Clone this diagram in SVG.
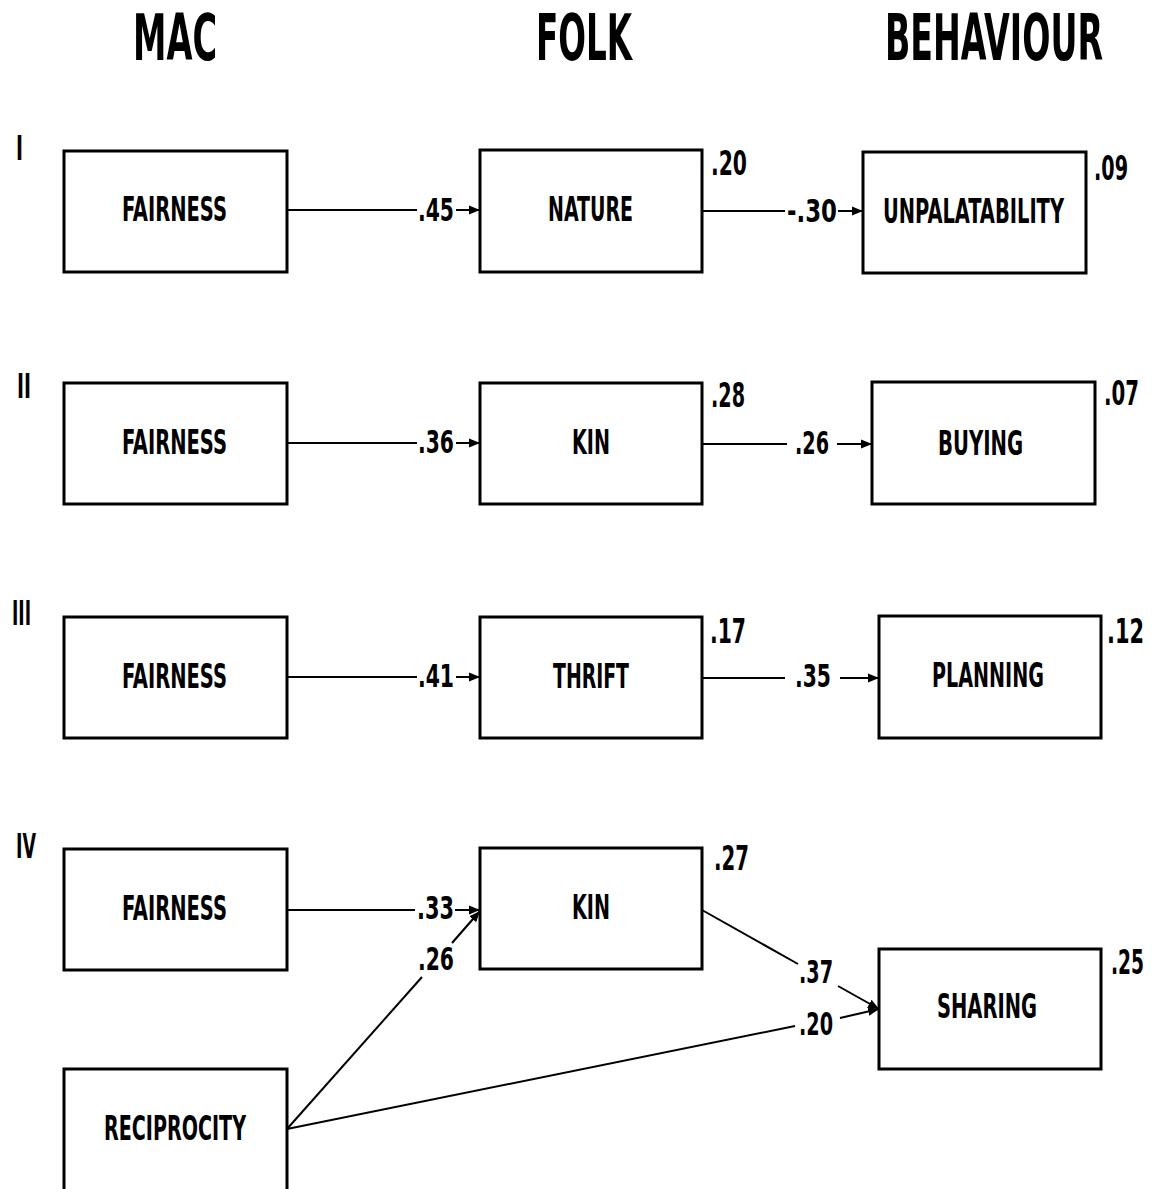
<svg xmlns="http://www.w3.org/2000/svg" width="1153" height="1189" viewBox="0 0 1153 1189">
<style>
text{font-family:"Liberation Sans Narrow","DejaVu Sans Condensed","Liberation Sans",sans-serif;font-weight:bold;fill:#000;}
.h{font-size:64px;}
.n{font-size:34px;}
.e{font-size:32px;}
.r{font-size:33px;}
.box{fill:#fff;stroke:#000;stroke-width:3;}
.c{stroke:#000;stroke-width:2;fill:none;}
.a{marker-end:url(#arr);}
</style>
<defs>
<marker id="arr" markerUnits="userSpaceOnUse" markerWidth="12" markerHeight="10" refX="11" refY="5" orient="auto">
<path d="M0,0.5 L11,5 L0,9.5 z" fill="#000"/>
</marker>
</defs>
<rect width="1153" height="1189" fill="#fff"/>
<g id="headers">
<text class="h" x="133" y="60" textLength="84" lengthAdjust="spacingAndGlyphs">MAC</text>
<text class="h" x="536" y="60" textLength="96" lengthAdjust="spacingAndGlyphs">FOLK</text>
<text class="h" x="885" y="60" textLength="218" lengthAdjust="spacingAndGlyphs">BEHAVIOUR</text>
</g>
<g id="row-labels">
<text class="n" x="16" y="160" textLength="7" lengthAdjust="spacingAndGlyphs">I</text>
<text class="n" x="17" y="398" textLength="14" lengthAdjust="spacingAndGlyphs">II</text>
<text class="n" x="12" y="625" textLength="19" lengthAdjust="spacingAndGlyphs">III</text>
<text class="n" x="16" y="858" textLength="20" lengthAdjust="spacingAndGlyphs">IV</text>
</g>
<g id="connectors">
<g id="c1a"><path class="c" d="M287,210 H417"/><path class="c a" d="M456,210 H480"/><text class="e" x="418" y="221" textLength="36" lengthAdjust="spacingAndGlyphs">.45</text></g>
<g id="c1b"><path class="c" d="M702,211 H785"/><path class="c a" d="M838,211 H863"/><text class="e" x="787" y="222" textLength="50" lengthAdjust="spacingAndGlyphs">-.30</text></g>
<g id="c2a"><path class="c" d="M287,443 H417"/><path class="c a" d="M456,443 H480"/><text class="e" x="418" y="453" textLength="36" lengthAdjust="spacingAndGlyphs">.36</text></g>
<g id="c2b"><path class="c" d="M702,444 H787"/><path class="c a" d="M837,444 H872"/><text class="e" x="795" y="454" textLength="34" lengthAdjust="spacingAndGlyphs">.26</text></g>
<g id="c3a"><path class="c" d="M287,677 H417"/><path class="c a" d="M456,677 H480"/><text class="e" x="418" y="687" textLength="36" lengthAdjust="spacingAndGlyphs">.41</text></g>
<g id="c3b"><path class="c" d="M702,678 H785"/><path class="c a" d="M840,678 H879"/><text class="e" x="795" y="687" textLength="36" lengthAdjust="spacingAndGlyphs">.35</text></g>
<g id="c4a"><path class="c" d="M287,910 H415"/><path class="c a" d="M455,910 H480"/><text class="e" x="417" y="919" textLength="37" lengthAdjust="spacingAndGlyphs">.33</text></g>
<g id="c4b"><path class="c" d="M287,1129 L422,977"/><path class="c a" d="M452,943 L480,911"/><text class="e" x="418" y="970" textLength="36" lengthAdjust="spacingAndGlyphs">.26</text></g>
<g id="c4c"><path class="c" d="M702,910 L798,964"/><path class="c a" d="M838,986 L879,1009"/><text class="e" x="799" y="983" textLength="34" lengthAdjust="spacingAndGlyphs">.37</text></g>
<g id="c4d"><path class="c" d="M287,1129 L795,1026"/><path class="c a" d="M840,1018 L879,1009"/><text class="e" x="799" y="1035" textLength="34" lengthAdjust="spacingAndGlyphs">.20</text></g>
</g>
<g id="n1-fairness"><rect class="box" x="64" y="151" width="223" height="121"/><text class="n" x="122" y="221" textLength="105" lengthAdjust="spacingAndGlyphs">FAIRNESS</text></g>
<g id="n1-nature"><rect class="box" x="480" y="150" width="222" height="122"/><text class="n" x="548" y="221" textLength="85" lengthAdjust="spacingAndGlyphs">NATURE</text><text class="r" x="711" y="175" textLength="36" lengthAdjust="spacingAndGlyphs">.20</text></g>
<g id="n1-unpalatability"><rect class="box" x="863" y="152" width="223" height="121"/><text class="n" x="883" y="223" textLength="181" lengthAdjust="spacingAndGlyphs">UNPALATABILITY</text><text class="r" x="1094" y="180" textLength="34" lengthAdjust="spacingAndGlyphs">.09</text></g>
<g id="n2-fairness"><rect class="box" x="64" y="383" width="223" height="121"/><text class="n" x="122" y="454" textLength="105" lengthAdjust="spacingAndGlyphs">FAIRNESS</text></g>
<g id="n2-kin"><rect class="box" x="480" y="383" width="222" height="121"/><text class="n" x="572" y="454" textLength="38" lengthAdjust="spacingAndGlyphs">KIN</text><text class="r" x="711" y="407" textLength="34" lengthAdjust="spacingAndGlyphs">.28</text></g>
<g id="n2-buying"><rect class="box" x="872" y="382" width="223" height="122"/><text class="n" x="938" y="455" textLength="85" lengthAdjust="spacingAndGlyphs">BUYING</text><text class="r" x="1104" y="405" textLength="35" lengthAdjust="spacingAndGlyphs">.07</text></g>
<g id="n3-fairness"><rect class="box" x="64" y="617" width="223" height="121"/><text class="n" x="122" y="688" textLength="105" lengthAdjust="spacingAndGlyphs">FAIRNESS</text></g>
<g id="n3-thrift"><rect class="box" x="480" y="617" width="222" height="121"/><text class="n" x="553" y="688" textLength="76" lengthAdjust="spacingAndGlyphs">THRIFT</text><text class="r" x="710" y="643" textLength="36" lengthAdjust="spacingAndGlyphs">.17</text></g>
<g id="n3-planning"><rect class="box" x="879" y="616" width="222" height="122"/><text class="n" x="932" y="687" textLength="112" lengthAdjust="spacingAndGlyphs">PLANNING</text><text class="r" x="1107" y="643" textLength="37" lengthAdjust="spacingAndGlyphs">.12</text></g>
<g id="n4-fairness"><rect class="box" x="64" y="849" width="223" height="121"/><text class="n" x="122" y="920" textLength="105" lengthAdjust="spacingAndGlyphs">FAIRNESS</text></g>
<g id="n4-kin"><rect class="box" x="480" y="848" width="222" height="121"/><text class="n" x="572" y="919" textLength="38" lengthAdjust="spacingAndGlyphs">KIN</text><text class="r" x="714" y="870" textLength="35" lengthAdjust="spacingAndGlyphs">.27</text></g>
<g id="n4-sharing"><rect class="box" x="879" y="949" width="222" height="120"/><text class="n" x="937" y="1018" textLength="100" lengthAdjust="spacingAndGlyphs">SHARING</text><text class="r" x="1111" y="974" textLength="33" lengthAdjust="spacingAndGlyphs">.25</text></g>
<g id="n4-reciprocity"><rect class="box" x="64" y="1069" width="223" height="140"/><text class="n" x="104" y="1140" textLength="142" lengthAdjust="spacingAndGlyphs">RECIPROCITY</text></g>
</svg>
